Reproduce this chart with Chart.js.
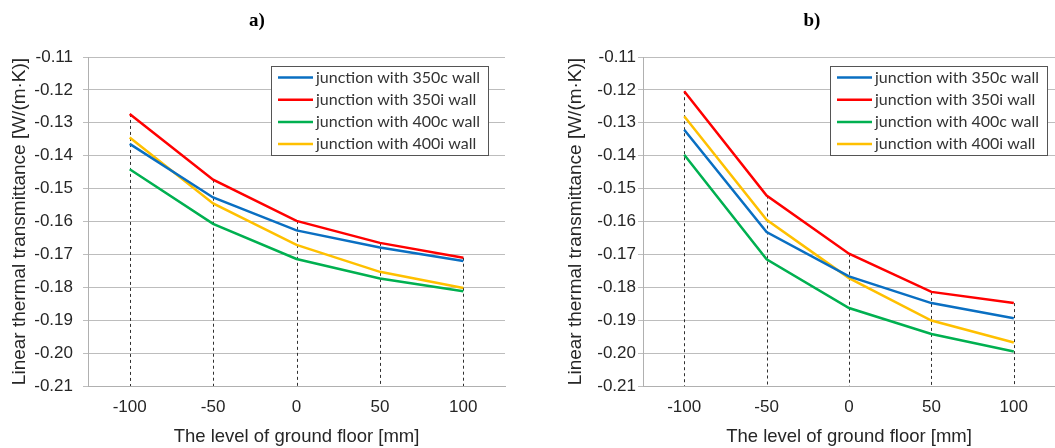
<!DOCTYPE html>
<html>
<head>
<meta charset="utf-8">
<script src="https://cdn.jsdelivr.net/npm/chart.js@4.4.0/dist/chart.umd.min.js"></script>
<style>
  body { margin: 0; background: #fff; width: 1055px; height: 448px; overflow: hidden; position: relative; }
  .panel { position: absolute; top: 0; height: 448px; }
  #wrapA { left: 0; width: 525px; }
  #wrapB { left: 525px; width: 530px; }
  .tag { position: absolute; top: 9px; width: 40px; text-align: center; line-height: 22px;
         font: bold 19px "Liberation Serif", "DejaVu Serif", serif; color: #000; }
</style>
</head>
<body>
<div class="panel" id="wrapA"><canvas id="chartA" width="525" height="448"></canvas></div>
<div class="panel" id="wrapB"><canvas id="chartB" width="530" height="448"></canvas></div>
<div class="tag" style="left:237px">a)</div>
<div class="tag" style="left:792px">b)</div>
<script>
// ground floor level (mm)
const levels = ['-100', '-50', '0', '50', '100'];
const seriesNames = ['junction with 350c wall', 'junction with 350i wall', 'junction with 400c wall', 'junction with 400i wall'];
const seriesColors = ['#0a6fc2', '#ff0000', '#00b050', '#ffc000'];

// panel a)
const a350c = [-0.1364, -0.1527, -0.1627, -0.1679, -0.1720];
const a350i = [-0.1273, -0.1473, -0.1598, -0.1665, -0.1710];
const a400c = [-0.1441, -0.1607, -0.1714, -0.1773, -0.1812];
const a400i = [-0.1345, -0.1545, -0.1671, -0.1753, -0.1802];

// panel b)
const b350c = [-0.1321, -0.1632, -0.1767, -0.1848, -0.1894];
const b350i = [-0.1204, -0.1521, -0.1698, -0.1814, -0.1848];
const b400c = [-0.1397, -0.1715, -0.1863, -0.1942, -0.1995];
const b400i = [-0.1280, -0.1595, -0.1772, -0.1901, -0.1968];

const yMin = -0.21;
const yMax = -0.11;
const yStep = 0.01;

const yTitle = 'Linear thermal transmittance [W/(m·K)]';
const xTitle = 'The level of ground floor [mm]';

// dashed drop lines from highest series down to the axis
const dropLines = {
    id: 'dropLines',
    beforeDatasetsDraw(chart) {
        const { ctx, chartArea, scales: { x, y } } = chart;
        ctx.save();
        ctx.strokeStyle = '#303030';
        ctx.lineWidth = 1;
        ctx.setLineDash([3, 3]);
        chart.data.labels.forEach((lab, i) => {
            const top = Math.max(...chart.data.datasets.map(d => d.data[i]));
            const px = Math.round(x.getPixelForValue(i)) + 0.5;
            ctx.beginPath();
            ctx.moveTo(px, y.getPixelForValue(top));
            ctx.lineTo(px, chartArea.bottom);
            ctx.stroke();
        });
        ctx.restore();
    }
};

// legend box drawn inside the plot area
const boxLegend = {
    id: 'boxLegend',
    afterDraw(chart, args, opts) {
        const ctx = chart.ctx;
        const area = chart.chartArea;
        const sets = chart.data.datasets;
        ctx.save();
        ctx.font = '16px Lato, "Open Sans", sans-serif';
        const textW = Math.max(...sets.map(d => ctx.measureText(d.label).width));
        const w = Math.round(45 + textW + 8);
        const h = 89;
        const x = Math.round(area.right - opts.right - w);
        const y = Math.round(area.top + 9);
        ctx.fillStyle = '#fff';
        ctx.fillRect(x, y, w, h);
        ctx.strokeStyle = '#555';
        ctx.lineWidth = 1;
        ctx.strokeRect(x + 0.5, y + 0.5, w, h);
        sets.forEach((d, i) => {
            const cy = y + 11.5 + i * 22.2;
            ctx.strokeStyle = d.borderColor;
            ctx.lineWidth = 2.5;
            ctx.beginPath();
            ctx.moveTo(x + 7, cy);
            ctx.lineTo(x + 42, cy);
            ctx.stroke();
            ctx.fillStyle = '#333';
            ctx.textBaseline = 'middle';
            ctx.fillText(d.label, x + 45, cy);
        });
        ctx.restore();
    }
};

function makeChart(id, values, axisWidth, titlePad, tickPad, legendRight, rightPad) {
    const ctx = document.getElementById(id).getContext('2d');
    return new Chart(ctx, {
        type: 'line',
        data: {
            labels: levels,
            datasets: values.map((v, i) => ({
                label: seriesNames[i],
                data: v,
                borderColor: seriesColors[i],
                backgroundColor: seriesColors[i],
                borderWidth: 2.5,
                pointRadius: 0,
                tension: 0,
                fill: false
            }))
        },
        options: {
            responsive: false,
            animation: false,
            layout: { padding: { top: 57, right: rightPad, left: 0, bottom: 0 } },
            plugins: {
                legend: { display: false },
                tooltip: { enabled: false },
                boxLegend: { right: legendRight }
            },
            scales: {
                x: {
                    offset: true,
                    grid: { display: false, drawTicks: false },
                    border: { display: true, color: '#b0b0b0', width: 1 },
                    ticks: { color: '#262626', padding: 11, font: { family: '"Liberation Sans", Arial', size: 17 } },
                    title: {
                        display: true, text: xTitle, color: '#262626',
                        padding: { top: 0, bottom: 0 },
                        font: { family: '"Liberation Sans", Arial', size: 18.5 }
                    },
                    afterFit(s) { s.height = 62; }
                },
                y: {
                    min: yMin,
                    max: yMax,
                    grid: { color: '#bdbdbd', lineWidth: 1, tickLength: 5 },
                    border: { display: true, color: '#b0b0b0', width: 1 },
                    ticks: {
                        stepSize: yStep,
                        color: '#262626',
                        padding: tickPad,
                        font: { family: '"Liberation Sans", Arial', size: 17 },
                        callback: v => v.toFixed(2)
                    },
                    title: {
                        display: true, text: yTitle, color: '#262626',
                        padding: { top: titlePad, bottom: 0 },
                        font: { family: '"Liberation Sans", Arial', size: 19 }
                    },
                    afterFit(s) { s.width = axisWidth; }
                }
            }
        },
        plugins: [dropLines, boxLegend]
    });
}

makeChart('chartA', [a350c, a350i, a400c, a400i], 88, 8.5, 10, 17, 20);
makeChart('chartB', [b350c, b350i, b400c, b400i], 118, 39.5, 2, 8, 0);
</script>
</body>
</html>
